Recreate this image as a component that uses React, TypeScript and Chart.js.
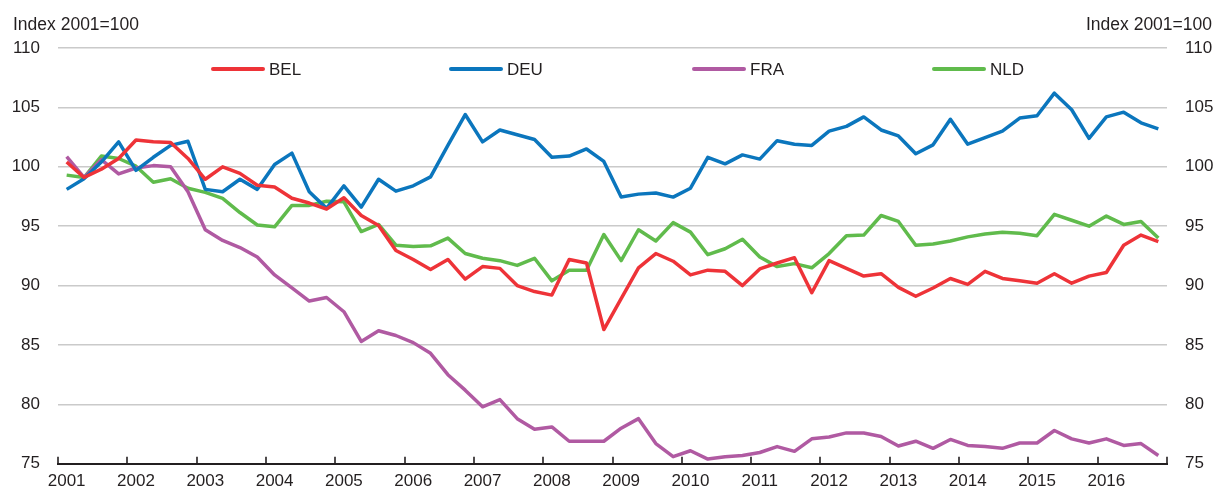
import React, { useEffect, useRef } from 'react';
import { Chart, registerables } from 'chart.js';

Chart.register(...registerables);

const years = [2001, 2002, 2003, 2004, 2005, 2006, 2007, 2008, 2009, 2010, 2011, 2012, 2013, 2014, 2015, 2016];
const quarterNames = ['Q1', 'Q2', 'Q3', 'Q4'];
const categories = years.flatMap((y) => quarterNames.map((q) => `${y}-${q}`));

const yMin = 75;
const yMax = 110;
const yStep = 5;

const axisTitle = 'Index 2001=100';

const BEL = [
  100.4, 99.1, 99.8, 100.7, 102.25, 102.1, 102.05, 100.7,
  98.95, 100.0, 99.45, 98.45, 98.3, 97.35, 96.95, 96.45,
  97.4, 95.9, 95.05, 92.95, 92.2, 91.35, 92.2, 90.55,
  91.6, 91.45, 90.0, 89.5, 89.2, 92.2, 91.9, 86.3,
  88.9, 91.5, 92.7, 92.05, 90.9, 91.3, 91.2, 90.0,
  91.4, 91.9, 92.35, 89.4, 92.1, 91.45, 90.8, 91.0,
  89.85, 89.1, 89.8, 90.6, 90.1, 91.2, 90.6, 90.4,
  90.2, 91.0, 90.2, 90.8, 91.1, 93.4, 94.25, 93.7,
];

const DEU = [
  98.1, 99.0, 100.4, 102.1, 99.7, 100.8, 101.8, 102.15,
  98.1, 97.9, 98.95, 98.1, 100.2, 101.15, 97.9, 96.5,
  98.4, 96.6, 98.95, 97.95, 98.4, 99.15, 101.8, 104.4,
  102.1, 103.1, 102.7, 102.3, 100.8, 100.9, 101.5, 100.45,
  97.45, 97.7, 97.8, 97.45, 98.2, 100.8, 100.25, 101.0,
  100.65, 102.2, 101.9, 101.8, 103.0, 103.4, 104.2, 103.1,
  102.6, 101.1, 101.85, 104.0, 101.9, 102.45, 103.0, 104.1,
  104.3, 106.2, 104.8, 102.4, 104.2, 104.6, 103.7, 103.2,
];

const FRA = [
  100.85, 99.1, 100.6, 99.4, 99.9, 100.1, 100.0, 97.9,
  94.7, 93.8, 93.2, 92.4, 90.9, 89.8, 88.7, 89.0,
  87.8, 85.3, 86.2, 85.8, 85.2, 84.3, 82.5, 81.2,
  79.8, 80.4, 78.8, 77.9, 78.1, 76.9, 76.9, 76.9,
  78.0, 78.8, 76.7, 75.6, 76.1, 75.4, 75.6, 75.7,
  75.95, 76.45, 76.05, 77.1, 77.25, 77.6, 77.6, 77.3,
  76.5, 76.9, 76.3, 77.05, 76.55, 76.45, 76.3, 76.75,
  76.75, 77.8, 77.1, 76.75, 77.1, 76.55, 76.7, 75.7,
];

const NLD = [
  99.3, 99.1, 100.9, 100.7, 100.05, 98.7, 99.0, 98.2,
  97.85, 97.35, 96.15, 95.1, 94.95, 96.75, 96.75, 97.1,
  97.05, 94.55, 95.15, 93.4, 93.3, 93.35, 94.0, 92.7,
  92.3, 92.1, 91.7, 92.3, 90.4, 91.3, 91.3, 94.3,
  92.1, 94.7, 93.75, 95.3, 94.5, 92.6, 93.1, 93.9,
  92.4, 91.6, 91.85, 91.5, 92.7, 94.2, 94.25, 95.9,
  95.4, 93.4, 93.5, 93.75, 94.1, 94.35, 94.5, 94.4,
  94.2, 96.0, 95.5, 95.0, 95.85, 95.15, 95.4, 94.0,
];

const seriesNames = ['BEL', 'DEU', 'FRA', 'NLD'];
const seriesValues = [BEL, DEU, FRA, NLD];
const seriesColors = ['#EE3338', '#0B76BD', '#B05AA2', '#60BB4C'];

const FONT = "'Liberation Sans', Arial, sans-serif";
const TEXT = '#231F20';
const GRID = '#CACACA';

const legendX = [211, 449, 692, 932];

const decor = {
  id: 'decor',
  afterDraw(chart: any) {
    const { ctx, chartArea, scales } = chart;
    const x = scales.x;
    ctx.save();
    // year tick marks pointing into the plot
    ctx.strokeStyle = TEXT;
    ctx.lineWidth = 1.6;
    for (let i = 0; i <= categories.length; i += 4) {
      const px = Math.round(x.getPixelForValue(i - 0.5));
      ctx.beginPath();
      ctx.moveTo(px, chartArea.bottom);
      ctx.lineTo(px, chartArea.bottom - 7);
      ctx.stroke();
    }
    // axis titles
    ctx.font = `17.5px ${FONT}`;
    ctx.fillStyle = TEXT;
    ctx.textBaseline = 'middle';
    ctx.textAlign = 'left';
    ctx.fillText(axisTitle, 13, 25);
    ctx.textAlign = 'right';
    ctx.fillText(axisTitle, 1212, 25);
    // legend
    ctx.font = `17px ${FONT}`;
    ctx.textAlign = 'left';
    seriesNames.forEach((name, k) => {
      const lx = legendX[k];
      ctx.strokeStyle = seriesColors[k];
      ctx.lineWidth = 4;
      ctx.lineCap = 'round';
      ctx.beginPath();
      ctx.moveTo(lx + 2, 69);
      ctx.lineTo(lx + 52, 69);
      ctx.stroke();
      ctx.fillStyle = TEXT;
      ctx.fillText(name, lx + 58, 70);
    });
    ctx.restore();
  },
};

export default function App() {
  const canvasRef = useRef<HTMLCanvasElement | null>(null);

  useEffect(() => {
    if (!canvasRef.current) return;
    const chart = new Chart(canvasRef.current, {
      type: 'line',
      data: {
        labels: categories,
        datasets: seriesNames.map((name, k) => ({
          label: name,
          data: seriesValues[k],
          borderColor: seriesColors[k],
          backgroundColor: seriesColors[k],
          borderWidth: 3.5,
          pointRadius: 0,
          tension: 0,
          borderJoinStyle: 'round' as const,
          yAxisID: 'y',
        })),
      },
      options: {
        animation: false,
        responsive: true,
        maintainAspectRatio: false,
        layout: { padding: { top: 48, left: 0, right: 0, bottom: 0 } },
        plugins: {
          legend: { display: false },
          tooltip: { enabled: false },
          title: { display: false },
        },
        scales: {
          x: {
            type: 'category',
            offset: true,
            grid: { display: false, drawTicks: false, offset: true },
            border: { display: true, color: TEXT, width: 2 },
            ticks: {
              autoSkip: false,
              maxRotation: 0,
              minRotation: 0,
              padding: 7,
              color: TEXT,
              font: { family: FONT, size: 17 },
              callback: (_v: any, index: number) =>
                index % 4 === 0 ? String(years[index / 4]) : '',
            },
            afterFit: (s: any) => {
              s.height = 25;
            },
          },
          y: {
            type: 'linear',
            position: 'left',
            min: yMin,
            max: yMax,
            grid: {
              drawTicks: false,
              color: (c: any) => (c.tick && c.tick.value === yMin ? 'rgba(0,0,0,0)' : GRID),
              lineWidth: 1.5,
            },
            border: { display: false },
            ticks: {
              stepSize: yStep,
              padding: 18,
              color: TEXT,
              font: { family: FONT, size: 17 },
            },
            afterFit: (s: any) => {
              s.width = 58;
            },
          },
          y2: {
            type: 'linear',
            position: 'right',
            min: yMin,
            max: yMax,
            grid: { display: false, drawTicks: false, drawOnChartArea: false },
            border: { display: false },
            ticks: {
              stepSize: yStep,
              padding: 18,
              color: TEXT,
              font: { family: FONT, size: 17 },
            },
            afterFit: (s: any) => {
              s.width = 49;
            },
          },
        },
      },
      plugins: [decor],
    });
    return () => chart.destroy();
  }, []);

  return (
    <div style={{ position: 'absolute', left: 0, top: 0, width: 1216, height: 492, background: '#fff' }}>
      <canvas ref={canvasRef} />
    </div>
  );
}
